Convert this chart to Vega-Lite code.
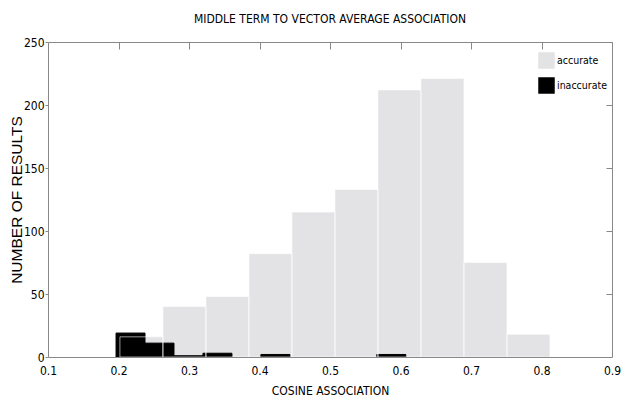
{
  "$schema": "https://vega.github.io/schema/vega-lite/v6.json",
  "autosize": {"type": "none"},
  "padding": {"left": 48, "top": 42, "right": 9, "bottom": 43},
  "width": 564,
  "height": 315,
  "background": "white",
  "title": {"text": "MIDDLE TERM TO VECTOR AVERAGE ASSOCIATION", "anchor": "middle", "frame": "group", "offset": 10, "font": "DejaVu Sans Condensed, Liberation Sans Narrow, sans-serif", "fontSize": 12, "fontWeight": "normal", "color": "#000000"},
  "config": {"view": {"stroke": null}, "axis": {"grid": false}},
  "data": {"values": [
    {"series": "accurate", "x0": 0.202, "x1": 0.263, "count": 16},
    {"series": "accurate", "x0": 0.263, "x1": 0.324, "count": 40},
    {"series": "accurate", "x0": 0.324, "x1": 0.385, "count": 48},
    {"series": "accurate", "x0": 0.385, "x1": 0.446, "count": 82},
    {"series": "accurate", "x0": 0.446, "x1": 0.507, "count": 115},
    {"series": "accurate", "x0": 0.507, "x1": 0.568, "count": 133},
    {"series": "accurate", "x0": 0.568, "x1": 0.629, "count": 212},
    {"series": "accurate", "x0": 0.629, "x1": 0.690, "count": 221},
    {"series": "accurate", "x0": 0.690, "x1": 0.751, "count": 75},
    {"series": "accurate", "x0": 0.751, "x1": 0.812, "count": 18},
    {"series": "inaccurate", "x0": 0.1965, "x1": 0.2376, "count": 19},
    {"series": "inaccurate", "x0": 0.2376, "x1": 0.2787, "count": 11},
    {"series": "inaccurate", "x0": 0.2787, "x1": 0.3198, "count": 1},
    {"series": "inaccurate", "x0": 0.3198, "x1": 0.3609, "count": 3},
    {"series": "inaccurate", "x0": 0.402, "x1": 0.4431, "count": 2},
    {"series": "inaccurate", "x0": 0.5664, "x1": 0.6075, "count": 2}
  ]},
  "resolve": {"axis": {"x": "independent", "y": "independent"}},
  "layer": [
    {
      "transform": [{"filter": "datum.series == 'accurate'"}],
      "mark": {"type": "rect", "strokeWidth": 0},
      "encoding": {
        "x": {"field": "x0", "type": "quantitative", "scale": {"domain": [0.1, 0.9], "nice": false, "zero": false},
          "axis": {"orient": "bottom", "values": [0.1, 0.2, 0.3, 0.4, 0.5, 0.6, 0.7, 0.8, 0.9], "format": ".1f", "ticks": false, "labelPadding": 8, "labelOverlap": false, "labelBound": false, "labelFlush": false, "labelFont": "DejaVu Sans Condensed, Liberation Sans Narrow, sans-serif", "labelFontSize": 12, "labelColor": "#000000", "domainColor": "#888888", "domainWidth": 1, "zindex": 1,
            "title": "COSINE ASSOCIATION", "titleFont": "DejaVu Sans Condensed, Liberation Sans Narrow, sans-serif", "titleFontSize": 12, "titleFontWeight": "normal", "titleColor": "#000000", "titlePadding": 9}},
        "x2": {"field": "x1"},
        "y": {"field": "count", "type": "quantitative", "scale": {"domain": [0, 250], "nice": false},
          "axis": {"orient": "left", "values": [0, 50, 100, 150, 200, 250], "tickSize": 3, "tickColor": "#888888", "labelPadding": 1, "labelFont": "DejaVu Sans Condensed, Liberation Sans Narrow, sans-serif", "labelFontSize": 12, "labelColor": "#000000", "domainColor": "#888888", "domainWidth": 1, "zindex": 1,
            "title": "NUMBER OF RESULTS", "titleFont": "Liberation Sans, Arial, sans-serif", "titleFontSize": 15.5, "titleFontWeight": "normal", "titleColor": "#000000", "titlePadding": -1}},
        "y2": {"datum": 0},
        "color": {"field": "series", "type": "nominal", "scale": {"domain": ["accurate", "inaccurate"], "range": ["#e3e3e5", "#000000"]},
          "legend": {"title": null, "orient": "none", "legendX": 490, "legendY": 10, "symbolType": "square", "symbolSize": 272, "symbolStrokeWidth": 0, "rowPadding": 8, "labelOffset": 2, "labelFont": "DejaVu Sans Condensed, Liberation Sans Narrow, sans-serif", "labelFontSize": 10.5, "labelColor": "#000000"}}
      }
    },
    {
      "transform": [{"filter": "datum.series == 'inaccurate'"}],
      "mark": {"type": "rect", "stroke": "#000000", "strokeWidth": 1},
      "encoding": {
        "x": {"field": "x0", "type": "quantitative",
          "axis": {"orient": "top", "values": [0.2, 0.3, 0.4, 0.5, 0.6, 0.7, 0.8], "labels": false, "tickSize": -7, "tickColor": "#888888", "domainColor": "#888888", "domainWidth": 1, "title": null, "zindex": 1}},
        "x2": {"field": "x1"},
        "y": {"field": "count", "type": "quantitative",
          "axis": {"orient": "right", "values": [50, 100, 150, 200, 250], "labels": false, "tickSize": -6, "tickColor": "#888888", "domainColor": "#888888", "domainWidth": 1, "title": null, "zindex": 1}},
        "y2": {"datum": 0},
        "color": {"field": "series", "type": "nominal"}
      }
    },
    {
      "transform": [{"filter": "datum.series == 'accurate'"}],
      "mark": {"type": "rect", "filled": false, "stroke": "#ffffff", "strokeOpacity": 0.6, "strokeWidth": 1},
      "encoding": {
        "x": {"field": "x0", "type": "quantitative", "axis": null},
        "x2": {"field": "x1"},
        "y": {"field": "count", "type": "quantitative", "axis": null},
        "y2": {"datum": 0}
      }
    }
  ]
}
